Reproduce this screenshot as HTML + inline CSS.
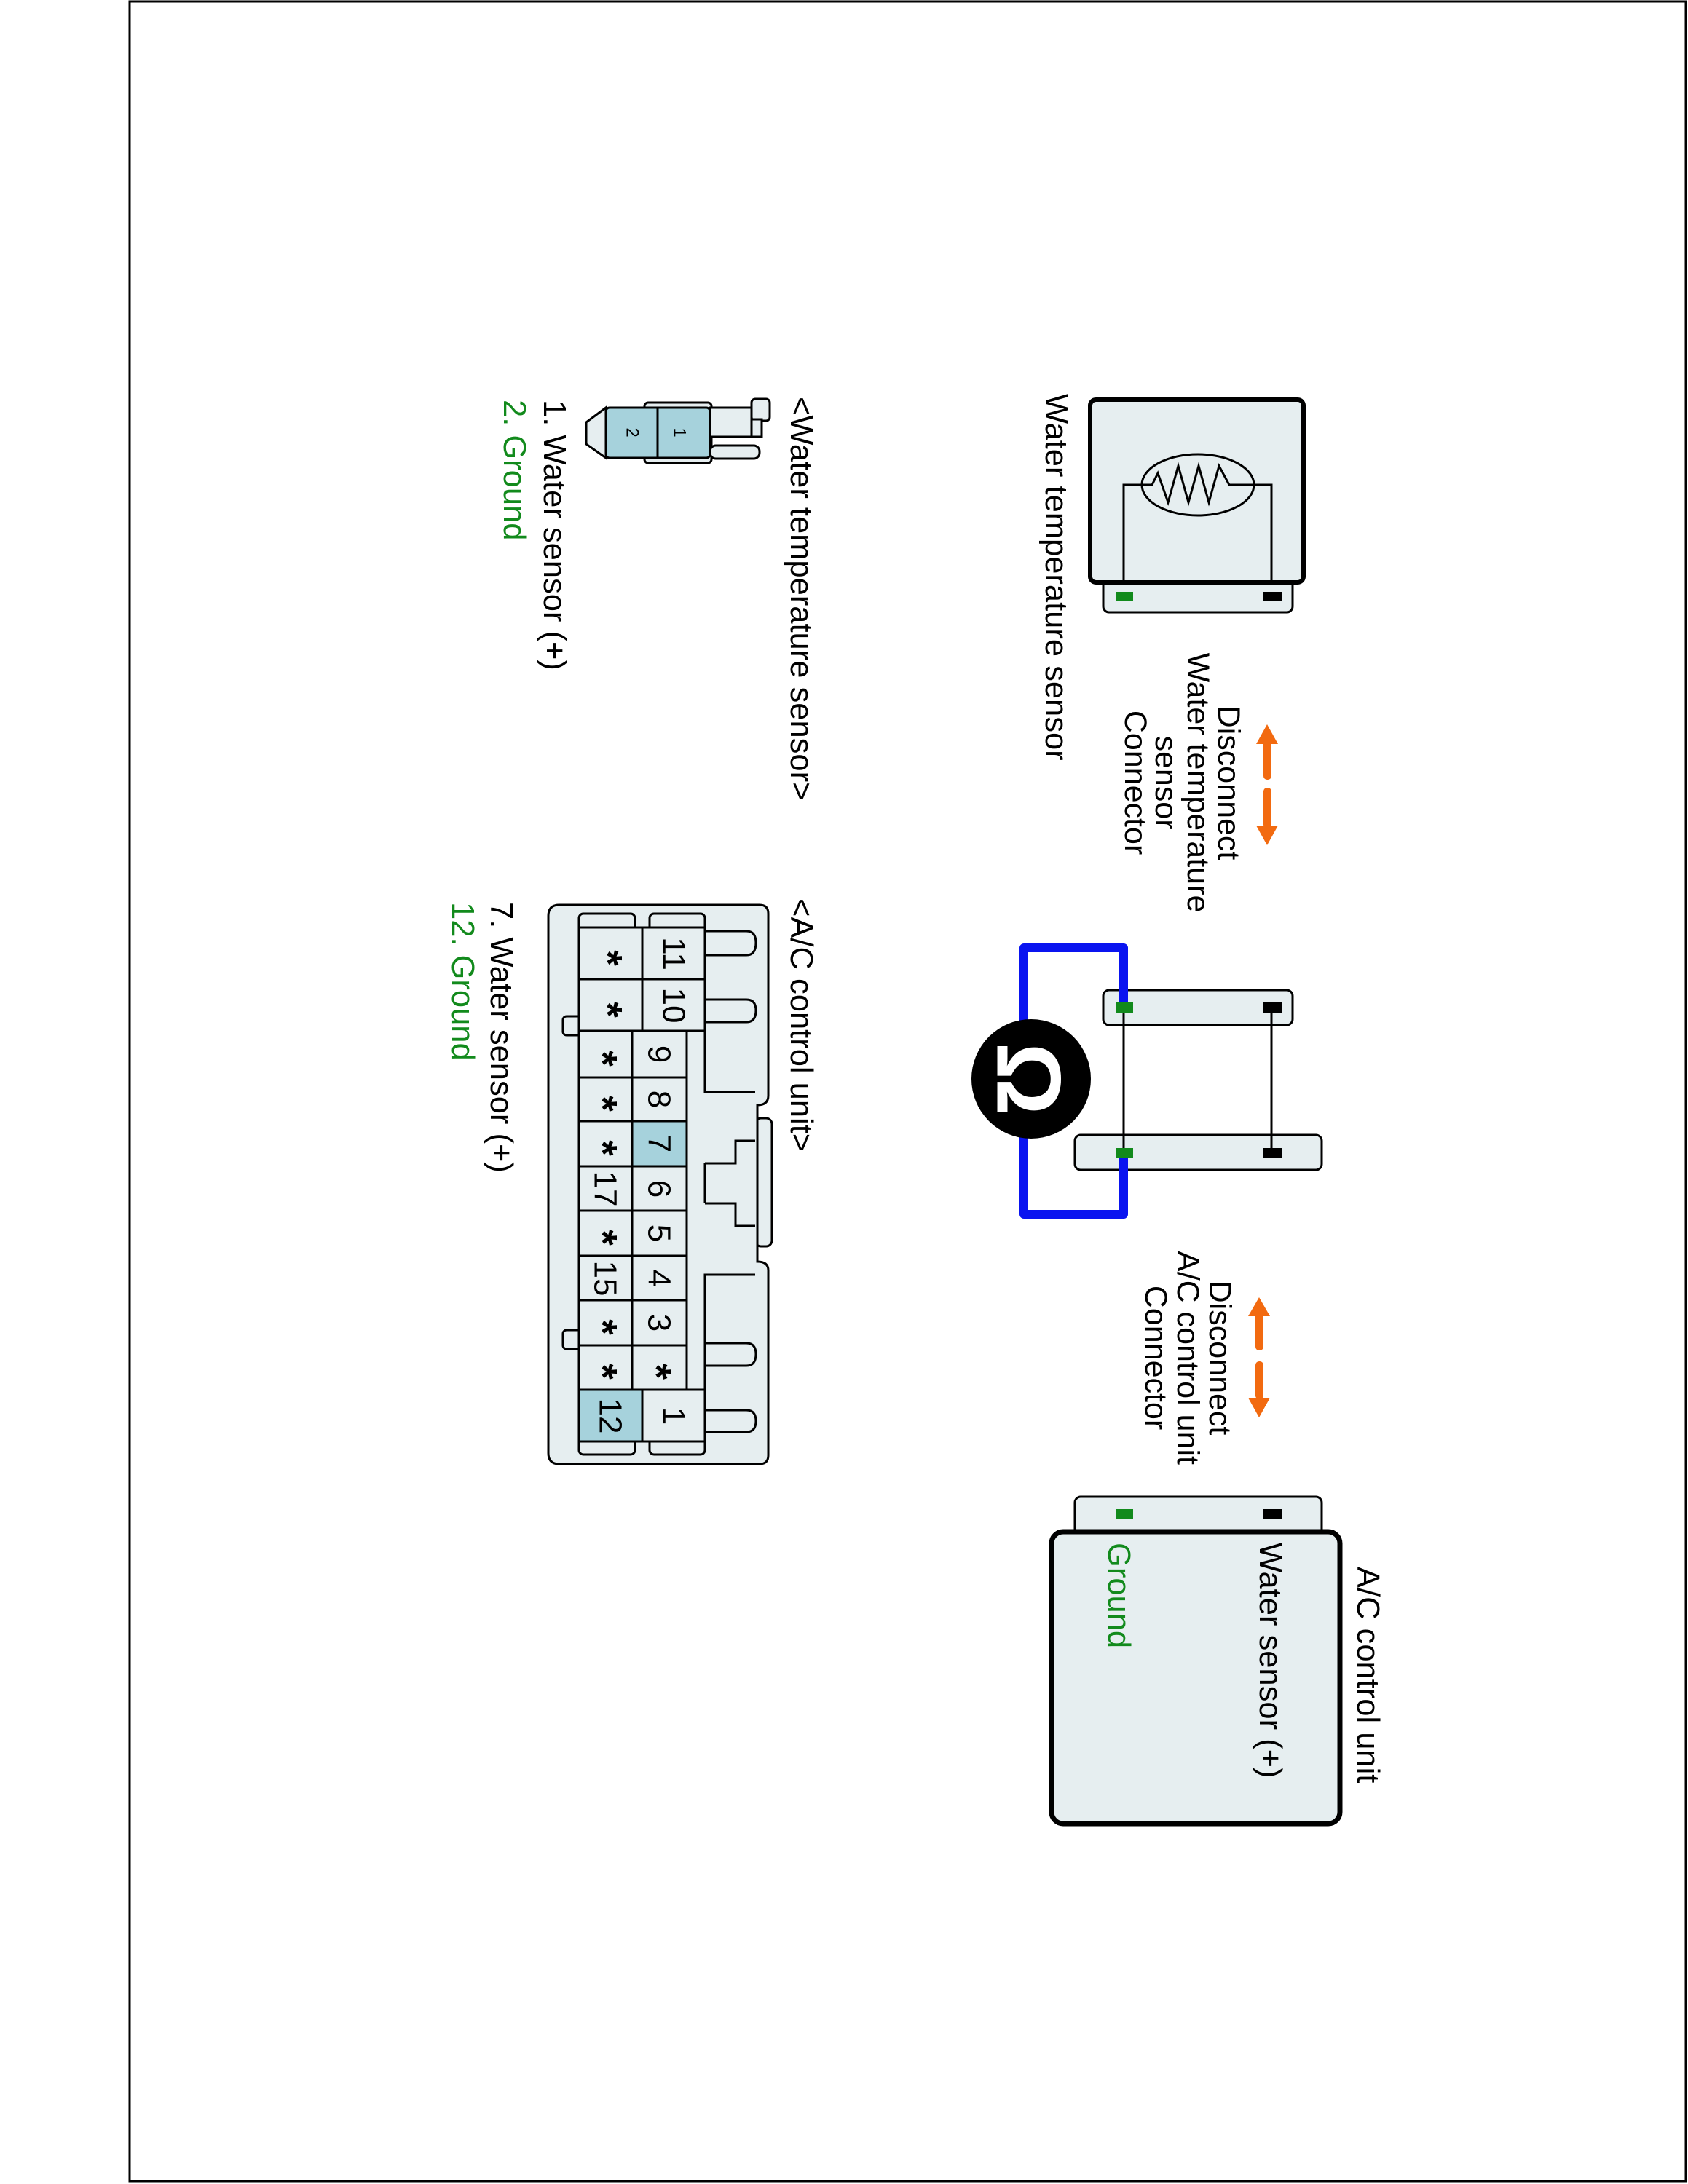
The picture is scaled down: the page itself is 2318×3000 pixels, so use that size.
<!DOCTYPE html>
<html><head><meta charset="utf-8"><style>
html,body{margin:0;padding:0;background:#fff}
svg{display:block}
text{font-family:"Liberation Sans",Arial,sans-serif}
</style></head><body>
<svg width="2318" height="3000" viewBox="0 0 2318 3000" xmlns="http://www.w3.org/2000/svg">
<rect x="0" y="0" width="2318" height="3000" fill="#fff"/>
<rect x="178" y="2" width="2137" height="2994" fill="none" stroke="#000" stroke-width="3"/>

<!-- Sensor -->
<rect x="1515" y="795" width="260" height="46" rx="8" fill="#e6eef0" stroke="#000" stroke-width="3"/>
<rect x="1497" y="549" width="293" height="251" rx="8" fill="#e6eef0" stroke="#000" stroke-width="6"/>
<rect x="1532" y="813" width="24" height="12" fill="#128a1c"/>
<rect x="1734" y="813" width="26" height="12" fill="#000"/>
<polyline points="1543,800 1543,666 1582,666 1590,650 1604,690 1618,640 1632,690 1646,640 1660,690 1674,640 1688,666 1746,666 1746,800" fill="none" stroke="#000" stroke-width="3"/>
<ellipse cx="1645" cy="666" rx="77" ry="42" fill="none" stroke="#000" stroke-width="3"/>
<text transform="translate(1450,541) rotate(90)" font-size="43.5" dominant-baseline="central">Water temperature sensor</text>

<!-- Orange arrows 1 -->
<g fill="#f26a10">
<rect x="1735" y="1015" width="11" height="56" rx="5"/>
<polygon points="1725,1022 1740,995 1755,1022"/>
<rect x="1735" y="1082" width="11" height="56" rx="5"/>
<polygon points="1725,1134 1740,1161 1755,1134"/>
</g>
<g font-size="43" text-anchor="middle" dominant-baseline="central">
<text transform="translate(1687,1075) rotate(90)">Disconnect</text>
<text transform="translate(1645,1075) rotate(90)">Water temperature</text>
<text transform="translate(1601,1075) rotate(90)">sensor</text>
<text transform="translate(1559,1075) rotate(90)">Connector</text>
</g>

<!-- middle connectors -->
<rect x="1515" y="1360" width="260" height="48" rx="8" fill="#e6eef0" stroke="#000" stroke-width="3"/>
<rect x="1476" y="1559" width="339" height="48" rx="8" fill="#e6eef0" stroke="#000" stroke-width="3"/>
<line x1="1543" y1="1383" x2="1543" y2="1584" stroke="#000" stroke-width="3"/>
<line x1="1746" y1="1383" x2="1746" y2="1584" stroke="#000" stroke-width="3"/>
<path d="M1543,1383 V1302 H1406 V1668 H1543 V1584" fill="none" stroke="#0a14f0" stroke-width="12" stroke-linejoin="round"/>
<rect x="1532" y="1377" width="24" height="14" fill="#128a1c"/>
<rect x="1734" y="1377" width="26" height="14" fill="#000"/>
<rect x="1532" y="1577" width="24" height="14" fill="#128a1c"/>
<rect x="1734" y="1577" width="26" height="14" fill="#000"/>
<ellipse cx="1416" cy="1482" rx="82" ry="82" fill="#000"/>
<text transform="translate(1412,1482) rotate(90)" font-size="125" font-weight="bold" fill="#fff" text-anchor="middle" dominant-baseline="central">Ω</text>

<!-- Orange arrows 2 -->
<g fill="#f26a10">
<rect x="1724" y="1800" width="11" height="55" rx="5"/>
<polygon points="1714,1808 1729,1782 1744,1808"/>
<rect x="1724" y="1870" width="11" height="52" rx="5"/>
<polygon points="1714,1920 1729,1947 1744,1920"/>
</g>
<g font-size="43" text-anchor="middle" dominant-baseline="central">
<text transform="translate(1675,1865) rotate(90)">Disconnect</text>
<text transform="translate(1631,1865) rotate(90)">A/C control unit</text>
<text transform="translate(1587,1865) rotate(90)">Connector</text>
</g>

<!-- AC unit -->
<rect x="1476" y="2056" width="339" height="56" rx="8" fill="#e6eef0" stroke="#000" stroke-width="3"/>
<rect x="1532" y="2073" width="24" height="13" fill="#128a1c"/>
<rect x="1734" y="2073" width="26" height="13" fill="#000"/>
<rect x="1444" y="2104" width="396" height="401" rx="16" fill="#e6eef0" stroke="#000" stroke-width="7"/>
<text transform="translate(1744,2119) rotate(90)" font-size="43.5" dominant-baseline="central">Water sensor (+)</text>
<text transform="translate(1536,2119) rotate(90)" font-size="43.5" fill="#128a1c" dominant-baseline="central">Ground</text>
<text transform="translate(1878,2152) rotate(90)" font-size="43.5" dominant-baseline="central">A/C control unit</text>

<!-- small sensor connector -->
<g stroke="#000" stroke-width="3">
<rect x="885" y="553" width="92" height="83" rx="5" fill="#e6eef0"/>
<rect x="975" y="560" width="57" height="40" fill="#e6eef0"/>
<rect x="1032" y="548" width="25" height="30" rx="5" fill="#e6eef0"/>
<rect x="1032" y="576" width="14" height="24" fill="#e6eef0"/>
<rect x="975" y="612" width="68" height="18" rx="8" fill="#e6eef0"/>
<polygon points="832,560 805,580 805,610 832,629" fill="#e6eef0"/>
<rect x="832" y="560" width="143" height="69" rx="5" fill="#a6d2dc"/>
<line x1="903" y1="560" x2="903" y2="629"/>
</g>
<g font-size="24" text-anchor="middle" dominant-baseline="central">
<text transform="translate(868,594) rotate(90)">2</text>
<text transform="translate(933,594) rotate(90)">1</text>
</g>
<text transform="translate(1100,545) rotate(90)" font-size="43.5" dominant-baseline="central">&lt;Water temperature sensor&gt;</text>
<text transform="translate(761,549) rotate(90)" font-size="43.5" dominant-baseline="central">1. Water sensor (+)</text>
<text transform="translate(706,549) rotate(90)" font-size="43.5" fill="#128a1c" dominant-baseline="central">2. Ground</text>

<!-- AC connector -->
<text transform="translate(1100,1234) rotate(90)" font-size="43.5" dominant-baseline="central">&lt;A/C control unit&gt;</text>
<text transform="translate(688,1239) rotate(90)" font-size="43.5" dominant-baseline="central">7. Water sensor (+)</text>
<text transform="translate(635,1239) rotate(90)" font-size="43.5" fill="#128a1c" dominant-baseline="central">12. Ground</text>

<g stroke="#000" stroke-width="3" fill="#e6eef0">
<rect x="1037" y="1536" width="23" height="176" rx="8"/>
<path d="M768,1243 H1043 Q1055,1243 1055,1255 V1505 Q1055,1518 1040,1518 V1733 Q1055,1733 1055,1745 V1999 Q1055,2011 1043,2011 H768 Q753,2011 753,1996 V1258 Q753,1243 768,1243 Z"/>
<rect x="795" y="1255" width="77" height="30" rx="6"/>
<rect x="892" y="1255" width="76" height="30" rx="6"/>
<rect x="795" y="1970" width="77" height="28" rx="6"/>
<rect x="892" y="1970" width="76" height="28" rx="6"/>
<rect x="773" y="1396" width="30" height="26" rx="5"/>
<rect x="773" y="1827" width="30" height="26" rx="5"/>
<path d="M968,1279 H1025 Q1038,1279 1038,1295 Q1038,1312 1025,1312 H968" />
<path d="M968,1373 H1025 Q1038,1373 1038,1388 Q1038,1404 1025,1404 H968" />
<path d="M968,1845 H1025 Q1038,1845 1038,1860 Q1038,1876 1025,1876 H968" />
<path d="M968,1937 H1025 Q1038,1937 1038,1952 Q1038,1967 1025,1967 H968" />
</g>
<g stroke="#000" stroke-width="3" fill="none">
<path d="M968,1274 V1500 H1037"/>
<path d="M968,1598 H1010 V1567 H1037 M968,1653 H1010 V1684 H1037 M968,1598 V1653"/>
<path d="M968,1980 V1751 H1037"/>
</g>
<!-- grid cells -->
<g stroke="#000" stroke-width="3" fill="#e6eef0">
<rect x="795" y="1274" width="87" height="71"/>
<rect x="882" y="1274" width="86" height="71"/>
<rect x="795" y="1345" width="87" height="71"/>
<rect x="882" y="1345" width="86" height="71"/>
<rect x="795" y="1416" width="73" height="64"/><rect x="868" y="1416" width="75" height="64"/>
<rect x="795" y="1480" width="73" height="60"/><rect x="868" y="1480" width="75" height="60"/>
<rect x="795" y="1540" width="73" height="62"/><rect x="868" y="1540" width="75" height="62" fill="#a6d2dc"/>
<rect x="795" y="1602" width="73" height="61"/><rect x="868" y="1602" width="75" height="61"/>
<rect x="795" y="1663" width="73" height="62"/><rect x="868" y="1663" width="75" height="62"/>
<rect x="795" y="1725" width="73" height="61"/><rect x="868" y="1725" width="75" height="61"/>
<rect x="795" y="1786" width="73" height="62"/><rect x="868" y="1786" width="75" height="62"/>
<rect x="795" y="1848" width="73" height="61"/><rect x="868" y="1848" width="75" height="61"/>
<rect x="795" y="1909" width="87" height="71" fill="#a6d2dc"/>
<rect x="882" y="1909" width="86" height="71"/>
</g>
<g font-size="44" text-anchor="middle" dominant-baseline="central">
<text transform="translate(925,1310) rotate(90)">11</text>
<text transform="translate(925,1381) rotate(90)">10</text>
<text transform="translate(905,1448) rotate(90)">9</text>
<text transform="translate(905,1510) rotate(90)">8</text>
<text transform="translate(905,1571) rotate(90)">7</text>
<text transform="translate(905,1633) rotate(90)">6</text>
<text transform="translate(905,1694) rotate(90)">5</text>
<text transform="translate(905,1756) rotate(90)">4</text>
<text transform="translate(905,1817) rotate(90)">3</text>
<text transform="translate(831,1633) rotate(90)">17</text>
<text transform="translate(831,1756) rotate(90)">15</text>
<text transform="translate(838,1945) rotate(90)">12</text>
<text transform="translate(925,1945) rotate(90)">1</text>
</g>
<g font-size="56" font-weight="bold" text-anchor="middle" dominant-baseline="central">
<text transform="translate(835,1316) rotate(90)">*</text>
<text transform="translate(835,1387) rotate(90)">*</text>
<text transform="translate(828,1454) rotate(90)">*</text>
<text transform="translate(828,1516) rotate(90)">*</text>
<text transform="translate(828,1577) rotate(90)">*</text>
<text transform="translate(828,1700) rotate(90)">*</text>
<text transform="translate(828,1823) rotate(90)">*</text>
<text transform="translate(828,1884) rotate(90)">*</text>
<text transform="translate(902,1884) rotate(90)">*</text>
</g>
</svg>
</body></html>
